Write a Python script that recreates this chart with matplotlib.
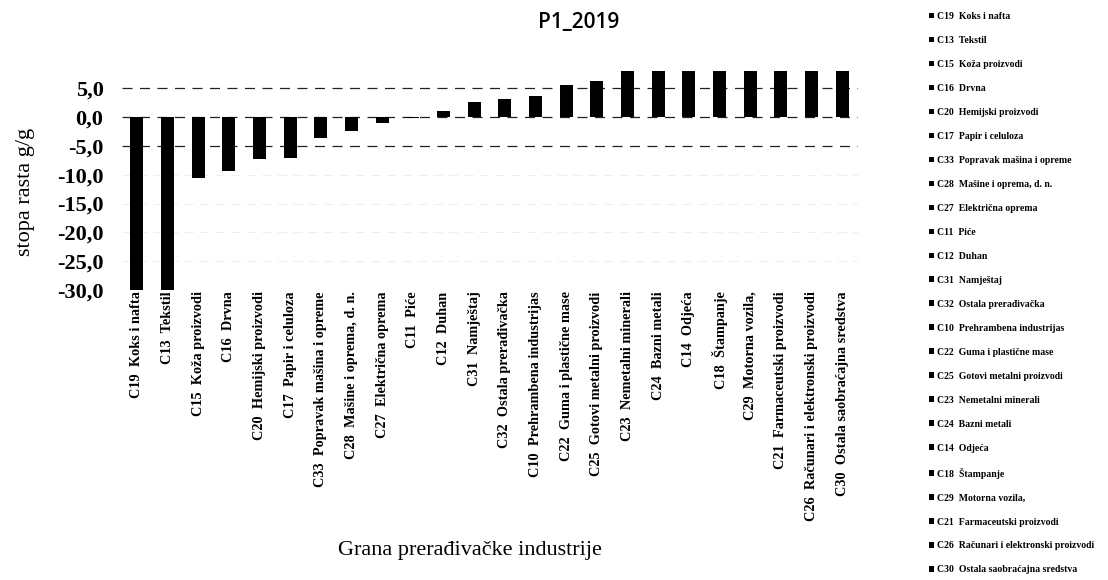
import matplotlib
matplotlib.use("Agg")
import matplotlib.pyplot as plt
import numpy as np

categories = [
    "C19  Koks i nafta", "C13  Tekstil", "C15  Koža proizvodi", "C16  Drvna",
    "C20  Hemijski proizvodi", "C17  Papir i celuloza", "C33  Popravak mašina i opreme",
    "C28  Mašine i oprema, d. n.", "C27  Električna oprema", "C11  Piće", "C12  Duhan",
    "C31  Namještaj", "C32  Ostala prerađivačka", "C10  Prehrambena industrijas",
    "C22  Guma i plastične mase", "C25  Gotovi metalni proizvodi", "C23  Nemetalni minerali",
    "C24  Bazni metali", "C14  Odjeća", "C18  Štampanje", "C29  Motorna vozila,",
    "C21  Farmaceutski proizvodi", "C26  Računari i elektronski proizvodi",
    "C30  Ostala saobraćajna sredstva",
]
values = [-35.0, -32.0, -10.6, -9.4, -7.3, -7.1, -3.7, -2.4, -1.1, -0.2, 1.1,
          2.6, 3.1, 3.6, 5.6, 6.3, 8.5, 9.0, 9.5, 10.0, 11.0, 12.0, 14.0, 16.0]
yticks = [5.0, 0.0, -5.0, -10.0, -15.0, -20.0, -25.0, -30.0]
title = "P1_2019"
ylabel = "stopa rasta g/g"
xlabel = "Grana prerađivačke industrije"

fig = plt.figure(figsize=(11.08, 5.8), dpi=100)
ax = fig.add_axes([0.1097, 0.5, 0.6643, 0.3776])

x = np.arange(len(categories))
bars = ax.bar(x, values, width=0.42, color="black", zorder=3)
for b, lab in zip(bars, categories):
    b.set_label(lab)

ax.set_xlim(-0.5, len(categories) - 0.5)
ax.set_ylim(-30, 8)
ax.set_yticks(yticks)
ax.set_yticklabels([f"{v:.1f}".replace(".", ",") for v in yticks],
                   fontfamily="Liberation Serif", fontweight="bold", fontsize=16)
ax.set_xticks(x)
ax.set_xticklabels(categories, rotation=90, fontfamily="Liberation Serif",
                   fontweight="bold", fontsize=10.3, va="top")
ax.tick_params(axis="x", length=0, pad=1)
ax.tick_params(axis="y", length=0, pad=13)
for s in ax.spines.values():
    s.set_visible(False)

for v in yticks:
    if v >= -5:
        ax.axhline(v, color="#222222", lw=0.9, ls=(0, (8, 6)), zorder=1)
    else:
        ax.axhline(v, color="#eeeeee", lw=0.8, ls=(0, (8, 6)), zorder=1)

ax.set_ylabel(ylabel, fontfamily="Liberation Serif", fontsize=16)
ax.yaxis.set_label_coords(-0.117, 0.447)
fig.text(0.424, 0.05, xlabel, fontfamily="Liberation Serif", fontsize=16,
         ha="center", va="center")
fig.text(0.522, 0.962, title, fontfamily="Open Sans", fontsize=15,
         fontweight="semibold", ha="center", va="center")

leg = fig.legend(handles=list(bars), labels=categories, loc="upper left",
                 bbox_to_anchor=(0.832, 0.991), frameon=False,
                 prop={"family": "Liberation Serif", "weight": "bold", "size": 7},
                 handlelength=0.5, handleheight=0.5, handletextpad=0.4,
                 labelspacing=1.54, borderaxespad=0.3)

fig.savefig("out.png", dpi=100)
